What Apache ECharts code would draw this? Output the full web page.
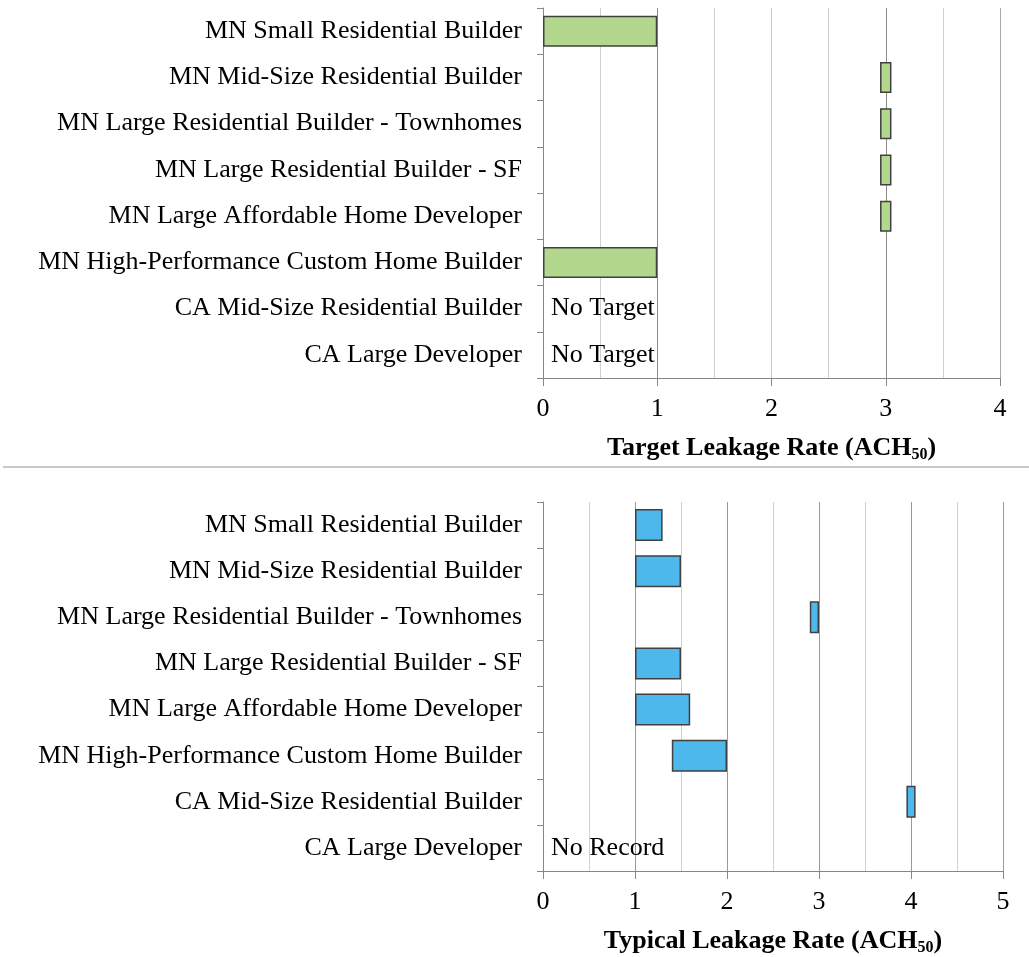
<!DOCTYPE html>
<html>
<head>
<meta charset="utf-8">
<title>Air Leakage Rates by Builder</title>
<script src="https://cdn.jsdelivr.net/npm/echarts@6/dist/echarts.min.js"></script>
<style>
  html, body { margin: 0; padding: 0; background: #fff; }
  #chart { width: 1029px; height: 957px; }
</style>
</head>
<body>
<div id="chart"></div>
<script>
// Builders, listed top to bottom
const categories = [
  'MN Small Residential Builder',
  'MN Mid-Size Residential Builder',
  'MN Large Residential Builder - Townhomes',
  'MN Large Residential Builder - SF',
  'MN Large Affordable Home Developer',
  'MN High-Performance Custom Home Builder',
  'CA Mid-Size Residential Builder',
  'CA Large Developer'
];

// Target leakage rate range (ACH50): low and high ends
const targetLow  = [0, 2.95, 2.95, 2.95, 2.95, 0, null, null];
const targetHigh = [1, 3.05, 3.05, 3.05, 3.05, 1, null, null];
const targetNotes = ['', '', '', '', '', '', 'No Target', 'No Target'];

// Typical leakage rate range (ACH50): low and high ends
const typicalLow  = [1.0, 1.0, 2.9, 1.0, 1.0, 1.4, 3.95, null];
const typicalHigh = [1.3, 1.5, 3.0, 1.5, 1.6, 2.0, 4.05, null];
const typicalNotes = ['', '', '', '', '', '', '', 'No Record'];

// Axis ranges and tick labels
const targetAxisMax = 4;
const typicalAxisMax = 5;
const targetTitle = ['Target Leakage Rate (ACH', '50', ')'];
const typicalTitle = ['Typical Leakage Rate (ACH', '50', ')'];

const SERIF = '"Liberation Serif", "Times New Roman", serif';
const AXIS_GREY = '#868686';

function axisName(parts) {
  return '{b|' + parts[0] + '}{s|' + parts[1] + '}{b|' + parts[2] + '}';
}

function baseData(low, notes) {
  return low.map((v, i) => v == null
    ? { value: 0, label: { show: true, formatter: notes[i] } }
    : v);
}

function spanData(low, high) {
  return low.map((v, i) => v == null ? null : Math.round((high[i] - v) * 1000) / 1000);
}

function xAxisFor(gridIndex, max, title, splitColors) {
  return {
    type: 'value', gridIndex: gridIndex, min: 0, max: max, interval: 1,
    name: axisName(title), nameLocation: 'middle', nameGap: 55,
    nameTextStyle: {
      fontFamily: SERIF, fontSize: 26, fontWeight: 'bold', color: '#000',
      rich: {
        b: { fontFamily: SERIF, fontSize: 26, fontWeight: 'bold', color: '#000', lineHeight: 30 },
        s: { fontFamily: SERIF, fontSize: 16, fontWeight: 'bold', color: '#000', lineHeight: 16, verticalAlign: 'bottom' }
      }
    },
    axisLine: { show: true, lineStyle: { color: AXIS_GREY, width: 1 } },
    axisTick: { show: true, length: 8, lineStyle: { color: AXIS_GREY } },
    axisLabel: { fontFamily: SERIF, fontSize: 26, color: '#000', margin: 18 },
    splitLine: { show: true, lineStyle: { color: splitColors, width: 1 } },
    minorTick: { show: false, splitNumber: 2 },
    minorSplitLine: { show: true, lineStyle: { color: '#d0d0d0', width: 1 } }
  };
}

function yAxisFor(gridIndex) {
  return {
    type: 'category', gridIndex: gridIndex, data: categories, inverse: true,
    axisLine: { show: true, lineStyle: { color: AXIS_GREY, width: 1 } },
    axisTick: { show: true, length: 6, lineStyle: { color: AXIS_GREY } },
    axisLabel: { fontFamily: SERIF, fontSize: 26, color: '#000', margin: 21 },
    splitLine: { show: false }
  };
}

function rangeSeries(axisIndex, stack, low, high, notes, fill, barWidth) {
  return [
    {
      type: 'bar', xAxisIndex: axisIndex, yAxisIndex: axisIndex, stack: stack,
      barWidth: barWidth, silent: true,
      itemStyle: { color: 'rgba(0,0,0,0)' },
      label: {
        show: false, position: 'right', distance: 8,
        fontFamily: SERIF, fontSize: 26, color: '#000'
      },
      data: baseData(low, notes)
    },
    {
      type: 'bar', xAxisIndex: axisIndex, yAxisIndex: axisIndex, stack: stack,
      barWidth: barWidth,
      itemStyle: { color: fill, borderColor: '#404040', borderWidth: 1.5 },
      data: spanData(low, high)
    }
  ];
}

const chart = echarts.init(document.getElementById('chart'), null, { renderer: 'canvas' });

chart.setOption({
  animation: false,
  backgroundColor: '#fff',
  grid: [
    { left: 543, right: 29, top: 8, bottom: 579, containLabel: false },
    { left: 543, right: 26, top: 502, bottom: 84, containLabel: false }
  ],
  xAxis: [
    xAxisFor(0, targetAxisMax, targetTitle, ['#9a9a9a', '#8a8a8a', '#c8c8c8', '#8a8a8a', '#a8a8a8']),
    xAxisFor(1, typicalAxisMax, typicalTitle, ['#9a9a9a'])
  ],
  yAxis: [yAxisFor(0), yAxisFor(1)],
  series: [
    ...rangeSeries(0, 'target', targetLow, targetHigh, targetNotes, '#b4d78e', 31),
    ...rangeSeries(1, 'typical', typicalLow, typicalHigh, typicalNotes, '#4db8ec', 32)
  ],
  graphic: [
    {
      type: 'line', silent: true,
      shape: { x1: 3, y1: 467, x2: 1029, y2: 467 },
      style: { stroke: '#c8c8c8', lineWidth: 2 }
    }
  ]
});
</script>
</body>
</html>
